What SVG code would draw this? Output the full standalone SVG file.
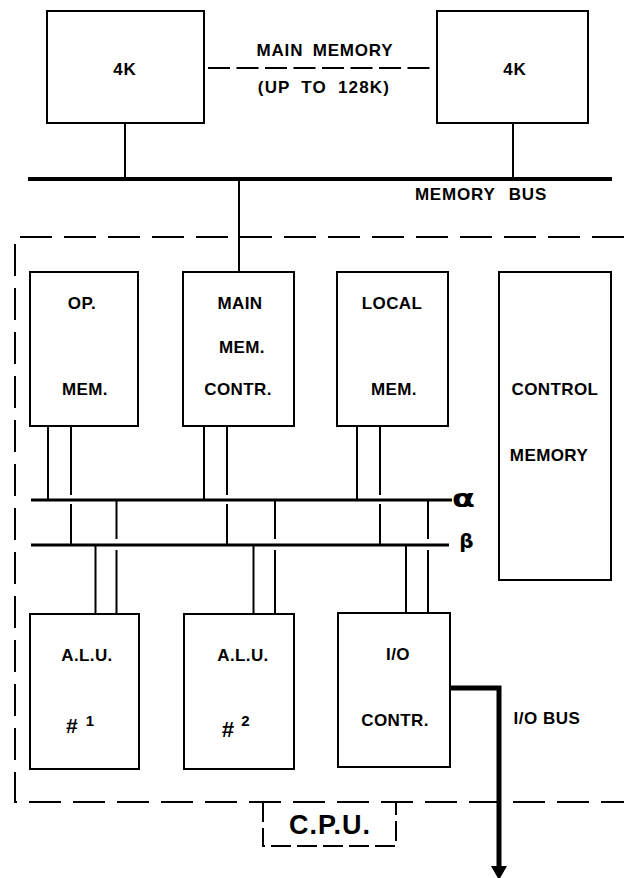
<svg xmlns="http://www.w3.org/2000/svg" width="624" height="878" viewBox="0 0 624 878">
<defs>
<style>
.box{fill:#fff;stroke:#000;stroke-width:2}
.t{font-family:"Liberation Sans",Arial,sans-serif;font-weight:bold;font-size:17px;letter-spacing:0.4px;fill:#000;text-anchor:middle}
.tl{font-family:"Liberation Sans",Arial,sans-serif;font-weight:bold;font-size:17px;letter-spacing:0.8px;fill:#000;text-anchor:middle}
.g{font-family:"DejaVu Sans",sans-serif;font-weight:bold;fill:#000;text-anchor:middle}
.w{stroke:#000;stroke-width:2;fill:none}
.bus{stroke:#000;stroke-width:3;fill:none}
.dash{stroke:#000;stroke-width:2;fill:none;stroke-dasharray:32 12}
</style>
</defs>
<rect width="624" height="878" fill="#fff"/>

<g id="connectors">
  <!-- main memory dashed link -->
  <line x1="208" y1="68" x2="434" y2="68" stroke="#000" stroke-width="2" stroke-dasharray="22 6.5"/>
  <!-- memory stems -->
  <line class="w" x1="125" y1="123" x2="125" y2="179"/>
  <line class="w" x1="513" y1="123" x2="513" y2="179"/>
  <!-- memory bus -->
  <line x1="28" y1="179" x2="612" y2="179" stroke="#000" stroke-width="4"/>
  <line class="w" x1="239" y1="179" x2="239" y2="272"/>
  <!-- alpha and beta buses -->
  <line class="bus" x1="31" y1="500" x2="452" y2="500"/>
  <line class="bus" x1="31" y1="545" x2="449" y2="545"/>
  <!-- upper pairs -->
  <line class="w" x1="48" y1="426" x2="48" y2="500"/>
  <path class="w" d="M71 426V495M71 504V545"/>
  <line class="w" x1="204" y1="426" x2="204" y2="500"/>
  <path class="w" d="M227 426V495M227 504V545"/>
  <line class="w" x1="357" y1="426" x2="357" y2="500"/>
  <path class="w" d="M380 426V495M380 504V545"/>
  <!-- lower pairs -->
  <line class="w" x1="95.5" y1="545" x2="95.5" y2="614"/>
  <path class="w" d="M116.5 500V539M116.5 550V614"/>
  <line class="w" x1="253.5" y1="545" x2="253.5" y2="614"/>
  <path class="w" d="M275 500V539M275 550V614"/>
  <line class="w" x1="406" y1="545" x2="406" y2="613"/>
  <path class="w" d="M428 500V539M428 550V613"/>
  <!-- I/O bus -->
  <path d="M450 688H499V868" stroke="#000" stroke-width="5" fill="none"/>
  <polygon points="491,866 507,866 499,880" fill="#000"/>
</g>

<g id="cpu-boundary">
  <path class="dash" d="M624 237H15V802H624"/>
  <path class="dash" d="M263 802V846H396V802" style="stroke-dasharray:20 6"/>
  <text x="330" y="834" style="font-family:'Liberation Sans',Arial,sans-serif;font-weight:bold;font-size:27px;letter-spacing:1px;text-anchor:middle">C.P.U.</text>
</g>

<g id="mem-left">
  <rect class="box" x="47" y="11" width="157" height="112"/>
  <text class="tl" x="125" y="75">4K</text>
</g>
<g id="mem-right">
  <rect class="box" x="437" y="11" width="151" height="112"/>
  <text class="tl" x="515" y="75">4K</text>
</g>
<g id="main-memory-label">
  <text class="tl" x="325" y="56" style="word-spacing:4px">MAIN MEMORY</text>
  <text class="tl" x="324" y="93" style="letter-spacing:1.2px;word-spacing:5px">(UP TO 128K)</text>
</g>
<g id="memory-bus-label">
  <text class="tl" x="481" y="200" style="word-spacing:8px">MEMORY BUS</text>
</g>

<g id="op-mem">
  <rect class="box" x="30" y="272" width="108" height="154"/>
  <text class="t" x="82" y="309">OP.</text>
  <text class="t" x="85" y="395">MEM.</text>
</g>
<g id="main-mem-contr">
  <rect class="box" x="183" y="272" width="111" height="154"/>
  <text class="t" x="240" y="309">MAIN</text>
  <text class="t" x="242" y="353">MEM.</text>
  <text class="t" x="238" y="395">CONTR.</text>
</g>
<g id="local-mem">
  <rect class="box" x="337" y="272" width="111" height="154"/>
  <text class="t" x="392" y="309">LOCAL</text>
  <text class="t" x="394" y="395">MEM.</text>
</g>
<g id="control-memory">
  <rect class="box" x="499" y="272" width="112" height="308"/>
  <text class="t" x="555" y="395">CONTROL</text>
  <text class="t" x="549" y="461">MEMORY</text>
</g>

<g id="alpha-label">
  <text class="g" x="463.5" y="507" style="font-size:24px" textLength="23" lengthAdjust="spacingAndGlyphs">α</text>
</g>
<g id="beta-label">
  <text class="g" x="466.5" y="548" style="font-size:20px">β</text>
</g>

<g id="alu1">
  <rect class="box" x="30" y="614" width="109" height="155"/>
  <text class="t" x="87" y="661">A.L.U.</text>
  <text class="t" x="71.5" y="733" style="font-size:21px;font-style:italic;letter-spacing:0">#</text>
  <text class="t" x="90" y="726" style="font-size:15px;letter-spacing:0">1</text>
</g>
<g id="alu2">
  <rect class="box" x="184" y="614" width="110" height="155"/>
  <text class="t" x="243" y="661">A.L.U.</text>
  <text class="t" x="227.5" y="737" style="font-size:22px;font-style:italic;letter-spacing:0">#</text>
  <text class="t" x="245.5" y="726" style="font-size:15px;letter-spacing:0">2</text>
</g>
<g id="io-contr">
  <rect class="box" x="338" y="613" width="112" height="154"/>
  <text class="t" x="398" y="660">I/O</text>
  <text class="t" x="395" y="726">CONTR.</text>
</g>
<g id="io-bus-label">
  <text class="t" x="547" y="724" style="letter-spacing:0.5px">I/O BUS</text>
</g>
</svg>
